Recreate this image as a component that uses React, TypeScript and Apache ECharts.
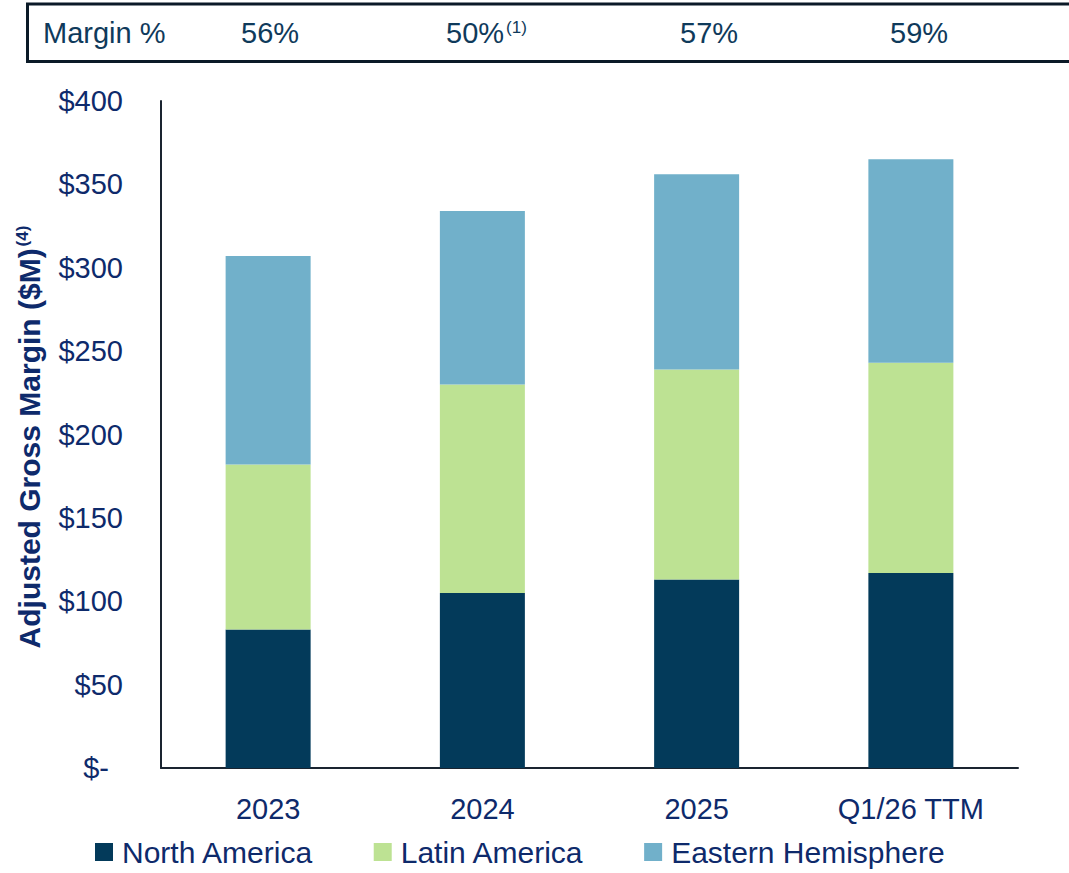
import React, { useEffect, useRef } from "react";
import * as echarts from "echarts";

const categories = ["2023", "2024", "2025", "Q1/26 TTM"];
const northAmerica = [83, 105, 113, 117];
const latinAmerica = [99, 125, 126, 126];
const easternHemisphere = [125, 104, 117, 122];
const marginLabels = ["56%", "50%", "57%", "59%"];
const marginFootnotes = ["", "(1)", "", ""];
const marginLabelX = [241, 446, 680, 890];
const yTicks = { min: 0, max: 400, interval: 50 };

const FONT = "'Liberation Sans', Arial, sans-serif";
const NAVY = "#0e2a6b";
const TEAL_NAVY = "#0f3a5b";

export default function App() {
  const ref = useRef<HTMLDivElement>(null);

  useEffect(() => {
    if (!ref.current) return;
    const chart = echarts.init(ref.current, null, { renderer: "svg" });

    const marginGraphics: any[] = marginLabels.map((label, i) => ({
      type: "text",
      x: marginLabelX[i],
      y: 33,
      style: {
        text: marginFootnotes[i] ? `{m|${label}}{s|${marginFootnotes[i]}}` : `{m|${label}}`,
        align: "left",
        verticalAlign: "middle",
        rich: {
          m: { fontSize: 29, fontFamily: FONT, fill: TEAL_NAVY, color: TEAL_NAVY, lineHeight: 29, verticalAlign: "bottom" },
          s: { fontSize: 17, fontFamily: FONT, fill: TEAL_NAVY, color: TEAL_NAVY, verticalAlign: "top", padding: [0, 0, 0, 2] },
        },
      },
    }));

    chart.setOption({
      animation: false,
      textStyle: { fontFamily: FONT },
      grid: { left: 161, right: 51, top: 101, bottom: 105, containLabel: false },
      legend: {
        data: ["North America", "Latin America", "Eastern Hemisphere"],
        left: 90,
        top: 832,
        icon: "rect",
        itemWidth: 18,
        itemHeight: 18,
        itemGap: 60,
        textStyle: { fontSize: 30, color: NAVY, fontFamily: FONT, padding: [0, 0, 0, 4], lineHeight: 30 },
      },
      xAxis: {
        type: "category",
        data: categories,
        axisLine: { show: true, lineStyle: { color: "#1a2430", width: 2 } },
        axisTick: { show: false },
        axisLabel: { fontSize: 29, color: NAVY, margin: 26, fontFamily: FONT },
        splitLine: { show: false },
      },
      yAxis: {
        type: "value",
        min: yTicks.min,
        max: yTicks.max,
        interval: yTicks.interval,
        axisLine: { show: true, lineStyle: { color: "#1a2430", width: 2 } },
        axisTick: { show: false },
        splitLine: { show: false },
        axisLabel: {
          fontSize: 29,
          color: NAVY,
          margin: 38,
          fontFamily: FONT,
          formatter: (v: number) => (v === 0 ? "{d|$-}" : `$${v}`),
          rich: { d: { fontSize: 29, color: NAVY, fontFamily: FONT, padding: [0, 14, 0, 0] } },
        },
      },
      series: [
        {
          name: "North America",
          type: "bar",
          stack: "total",
          barWidth: 85,
          data: northAmerica,
          itemStyle: { color: "#033a5a" },
        },
        {
          name: "Latin America",
          type: "bar",
          stack: "total",
          barWidth: 85,
          data: latinAmerica,
          itemStyle: { color: "#bde293" },
        },
        {
          name: "Eastern Hemisphere",
          type: "bar",
          stack: "total",
          barWidth: 85,
          data: easternHemisphere,
          itemStyle: { color: "#71b0ca" },
        },
      ],
      graphic: [
        {
          type: "rect",
          shape: { x: 27.5, y: 4, width: 1100, height: 57.5 },
          style: { fill: "none", stroke: "#0b1a28", lineWidth: 3 },
        },
        {
          type: "text",
          x: 43,
          y: 33,
          style: {
            text: "Margin %",
            fontSize: 29,
            fontFamily: FONT,
            fill: TEAL_NAVY,
            align: "left",
            verticalAlign: "middle",
          },
        },
        ...marginGraphics,
        {
          type: "text",
          x: 29,
          y: 437,
          rotation: Math.PI / 2,
          style: {
            text: "{m|Adjusted Gross Margin ($M)}{s|(4)}",
            align: "center",
            verticalAlign: "middle",
            rich: {
              m: { fontSize: 30, fontWeight: "bold", fontFamily: FONT, fill: NAVY, color: NAVY, lineHeight: 30, verticalAlign: "bottom" },
              s: { fontSize: 17, fontWeight: "bold", fontFamily: FONT, fill: NAVY, color: NAVY, verticalAlign: "top", padding: [0, 0, 0, 2] },
            },
          },
        },
      ],
    });

    return () => chart.dispose();
  }, []);

  return (
    <div
      ref={ref}
      style={{ position: "absolute", left: 0, top: 0, width: 1069, height: 873, background: "#ffffff" }}
    />
  );
}
